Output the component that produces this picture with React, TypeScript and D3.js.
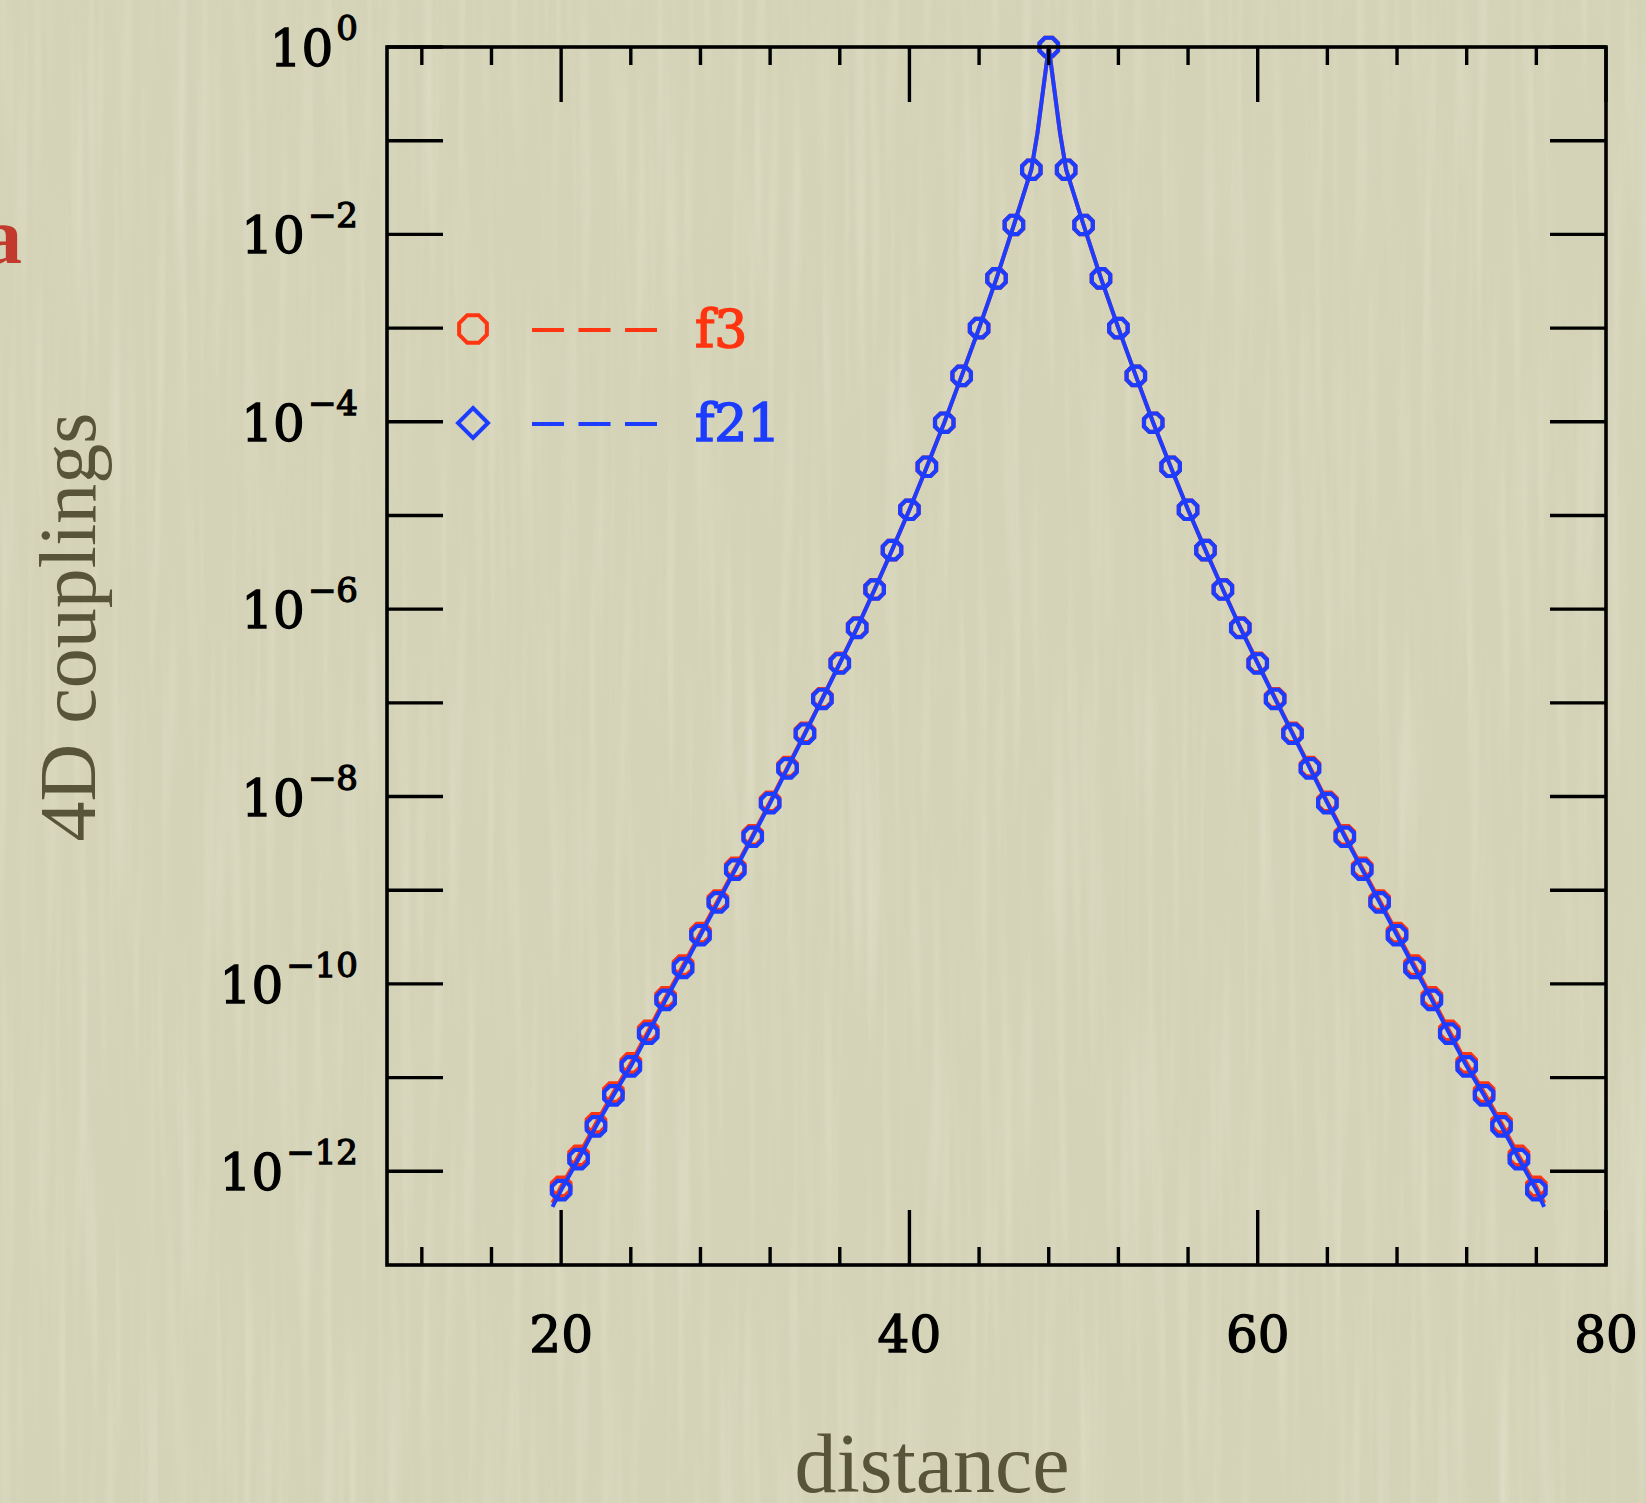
import * as d3 from "d3";
import { useEffect, useRef } from "react";

// distance of the sampled sites
const distance = [
	20, 21, 22, 23, 24, 25, 26, 27, 28, 29, 30, 31, 32, 33, 34, 35, 36, 37, 38, 39,
	40, 41, 42, 43, 44, 45, 46, 47, 48, 49, 50, 51, 52, 53, 54, 55, 56, 57, 58, 59,
	60, 61, 62, 63, 64, 65, 66, 67, 68, 69, 70, 71, 72, 73, 74, 75, 76,
];

const f21 = [
	6.31e-13, 1.35e-12, 3.02e-12, 6.46e-12, 1.32e-11, 2.95e-11, 6.76e-11, 1.48e-10,
	3.31e-10, 7.41e-10, 1.66e-9, 3.72e-9, 8.51e-9, 2.0e-8, 4.68e-8, 1.1e-7, 2.63e-7,
	6.31e-7, 1.62e-6, 4.27e-6, 1.15e-5, 3.31e-5, 9.77e-5, 3.09e-4, 1.0e-3, 3.39e-3,
	1.26e-2, 4.9e-2, 1,
	4.9e-2, 1.26e-2, 3.39e-3, 1.0e-3, 3.09e-4, 9.77e-5, 3.31e-5, 1.15e-5, 4.27e-6,
	1.62e-6, 6.31e-7, 2.63e-7, 1.1e-7, 4.68e-8, 2.0e-8, 8.51e-9, 3.72e-9, 1.66e-9,
	7.41e-10, 3.31e-10, 1.48e-10, 6.76e-11, 2.95e-11, 1.32e-11, 6.46e-12, 3.02e-12,
	1.35e-12, 6.31e-13,
];

const f3 = [
	6.84e-13, 1.46e-12, 3.26e-12, 6.93e-12, 1.42e-11, 3.15e-11, 7.18e-11, 1.57e-10,
	3.49e-10, 7.76e-10, 1.73e-9, 3.86e-9, 8.79e-9, 2.06e-8, 4.79e-8, 1.12e-7, 2.67e-7,
	6.37e-7, 1.63e-6, 4.27e-6, 1.15e-5, 3.31e-5, 9.77e-5, 3.09e-4, 1.0e-3, 3.39e-3,
	1.26e-2, 4.9e-2, 1,
	4.9e-2, 1.26e-2, 3.39e-3, 1.0e-3, 3.09e-4, 9.77e-5, 3.31e-5, 1.15e-5, 4.27e-6,
	1.63e-6, 6.37e-7, 2.67e-7, 1.12e-7, 4.79e-8, 2.06e-8, 8.79e-9, 3.86e-9, 1.73e-9,
	7.76e-10, 3.49e-10, 1.57e-10, 7.18e-11, 3.15e-11, 1.42e-11, 6.93e-12, 3.26e-12,
	1.46e-12, 6.84e-13,
];

// extra vertices of the drawn curves: the line ends and the shoulders of the peak
const curveDistance = [19.5, 47.35, 48.65, 76.45];
const f21Curve = [4.17e-13, 0.12, 0.12, 4.17e-13];
const f3Curve = [4.6e-13, 0.12, 0.12, 4.6e-13];

const seriesNames = ["f3", "f21"];
const xMajorTicks = [20, 40, 60, 80];
const xMinorTicks = [12, 16, 24, 28, 32, 36, 44, 48, 52, 56, 64, 68, 72, 76];
const yTicks = [1, 1e-1, 1e-2, 1e-3, 1e-4, 1e-5, 1e-6, 1e-7, 1e-8, 1e-9, 1e-10, 1e-11, 1e-12];
const yLabelExponents = [0, -2, -4, -6, -8, -10, -12];

const W = 1646;
const H = 1503;
const plot = { left: 387, right: 1606, top: 47, bottom: 1265 };

const RED = "#ff3410";
const BLUE = "#1c3cff";
const INK = "#000";
const TITLE = "#57543a";

const octagon = (r) =>
	d3.line()(d3.range(8).map((k) => {
		const a = Math.PI / 8 + (k * Math.PI) / 4;
		return [r * Math.cos(a), r * Math.sin(a)];
	})) + "Z";

const App = () => {
	const svgRef = useRef(null);

	useEffect(() => {
		const svg = d3.select(svgRef.current);
		svg.selectAll("*").remove();

		const x = d3.scaleLinear().domain([10, 80]).range([plot.left, plot.right]);
		const y = d3.scaleLog().domain([1e-13, 1]).range([plot.bottom, plot.top]);

		// paper background, soft vertical grain
		const defs = svg.append("defs");
		const filter = defs.append("filter").attr("id", "paper")
			.attr("x", 0).attr("y", 0).attr("width", "100%").attr("height", "100%");
		filter.append("feTurbulence")
			.attr("type", "fractalNoise")
			.attr("baseFrequency", "0.09 0.003")
			.attr("numOctaves", 2)
			.attr("seed", 7);
		filter.append("feColorMatrix")
			.attr("type", "matrix")
			.attr("values", "0 0 0 0 1  0 0 0 0 1  0 0 0 0 0.92  1.3 0 0 0 -0.6");

		svg.append("rect").attr("width", W).attr("height", H).attr("fill", "#d4d3b7");
		svg.append("rect").attr("width", W).attr("height", H)
			.attr("filter", "url(#paper)").attr("opacity", 0.35);

		// stray label cut by the left edge, as in the source slide
		svg.append("text")
			.attr("x", 22).attr("y", 263)
			.attr("text-anchor", "end")
			.attr("font-family", "Liberation Serif")
			.attr("font-weight", "bold")
			.attr("font-size", 80)
			.attr("fill", "#c23a2e")
			.text("a");

		// series: red first, blue on top
		const series = [
			{ name: seriesNames[0], values: f3, curve: f3Curve, color: RED },
			{ name: seriesNames[1], values: f21, curve: f21Curve, color: BLUE },
		];

		const line = d3.line().x((d) => x(d[0])).y((d) => y(d[1]));
		const marker = octagon(10);

		series.forEach((s) => {
			const pts = distance.map((d, i) => [d, s.values[i]])
				.concat(curveDistance.map((d, i) => [d, s.curve[i]]))
				.sort((a, b) => a[0] - b[0]);

			svg.append("path")
				.attr("d", line(pts))
				.attr("fill", "none")
				.attr("stroke", s.color)
				.attr("stroke-width", 4)
				.attr("stroke-linejoin", "round");

			svg.append("g")
				.selectAll("path")
				.data(distance)
				.join("path")
				.attr("transform", (d, i) => `translate(${x(d)},${y(s.values[i])})`)
				.attr("d", marker)
				.attr("fill", "none")
				.attr("stroke", s.color)
				.attr("stroke-width", 4.2);
		});

		// frame and inward ticks
		const axes = svg.append("g").attr("stroke", INK).attr("fill", "none");
		axes.append("rect")
			.attr("x", plot.left).attr("y", plot.top)
			.attr("width", plot.right - plot.left).attr("height", plot.bottom - plot.top)
			.attr("stroke-width", 3.6);

		const tickG = axes.append("g").attr("stroke-width", 3.4);
		xMajorTicks.concat(xMinorTicks).forEach((v) => {
			const len = xMajorTicks.includes(v) ? 55 : 18;
			tickG.append("line").attr("x1", x(v)).attr("x2", x(v))
				.attr("y1", plot.bottom).attr("y2", plot.bottom - len);
			tickG.append("line").attr("x1", x(v)).attr("x2", x(v))
				.attr("y1", plot.top).attr("y2", plot.top + len);
		});
		yTicks.forEach((v) => {
			tickG.append("line").attr("x1", plot.left).attr("x2", plot.left + 56)
				.attr("y1", y(v)).attr("y2", y(v));
			tickG.append("line").attr("x1", plot.right).attr("x2", plot.right - 56)
				.attr("y1", y(v)).attr("y2", y(v));
		});

		// tick labels (a thin stroke gives the heavier typewriter look)
		svg.append("g")
			.selectAll("text")
			.data(xMajorTicks)
			.join("text")
			.attr("x", (d) => x(d))
			.attr("y", 1352)
			.attr("text-anchor", "middle")
			.attr("font-family", "DejaVu Serif")
			.attr("font-size", 50)
			.attr("fill", INK)
			.attr("stroke", INK)
			.attr("stroke-width", 1.3)
			.text((d) => d);

		const yl = svg.append("g")
			.selectAll("text")
			.data(yLabelExponents)
			.join("text")
			.attr("x", 358)
			.attr("y", (d) => y(Math.pow(10, d)) + 19)
			.attr("text-anchor", "end")
			.attr("font-family", "DejaVu Serif")
			.attr("font-size", 50)
			.attr("fill", INK)
			.attr("stroke", INK)
			.attr("stroke-width", 1.3);
		yl.append("tspan").text("10");
		yl.append("tspan")
			.attr("dy", -26)
			.attr("dx", 3)
			.attr("font-size", 34)
			.text((d) => (d < 0 ? "\u2212" + -d : String(d)));

		// legend
		const legend = svg.append("g");
		const legendRows = [
			{ name: seriesNames[0], color: RED, cy: 329, ty: 347, shape: octagon(15) },
			{ name: seriesNames[1], color: BLUE, cy: 423, ty: 441, shape: "M0,-15L15,0L0,15L-15,0Z" },
		];
		legendRows.forEach((r) => {
			legend.append("path")
				.attr("transform", `translate(473,${r.cy})`)
				.attr("d", r.shape)
				.attr("fill", "none")
				.attr("stroke", r.color)
				.attr("stroke-width", 4);
			legend.append("line")
				.attr("x1", 532).attr("x2", 657)
				.attr("y1", r.cy + 1).attr("y2", r.cy + 1)
				.attr("stroke", r.color)
				.attr("stroke-width", 4)
				.attr("stroke-dasharray", "32,14.5");
			legend.append("text")
				.attr("x", 695).attr("y", r.ty)
				.attr("font-family", "DejaVu Serif")
				.attr("font-size", 52)
				.attr("fill", r.color)
				.attr("stroke", r.color)
				.attr("stroke-width", 1.6)
				.text(r.name);
		});

		// axis titles
		svg.append("text")
			.attr("transform", `translate(95,627) rotate(-90)`)
			.attr("text-anchor", "middle")
			.attr("font-family", "Liberation Serif")
			.attr("font-size", 80)
			.attr("fill", TITLE)
			.text("4D couplings");

		svg.append("text")
			.attr("x", 932).attr("y", 1492)
			.attr("text-anchor", "middle")
			.attr("font-family", "Liberation Serif")
			.attr("font-size", 84)
			.attr("fill", TITLE)
			.text("distance");
	}, []);

	return (
		<svg
			ref={svgRef}
			width={W}
			height={H}
			style={{ position: "absolute", left: 0, top: 0, display: "block" }}
		></svg>
	);
};

export default App;
